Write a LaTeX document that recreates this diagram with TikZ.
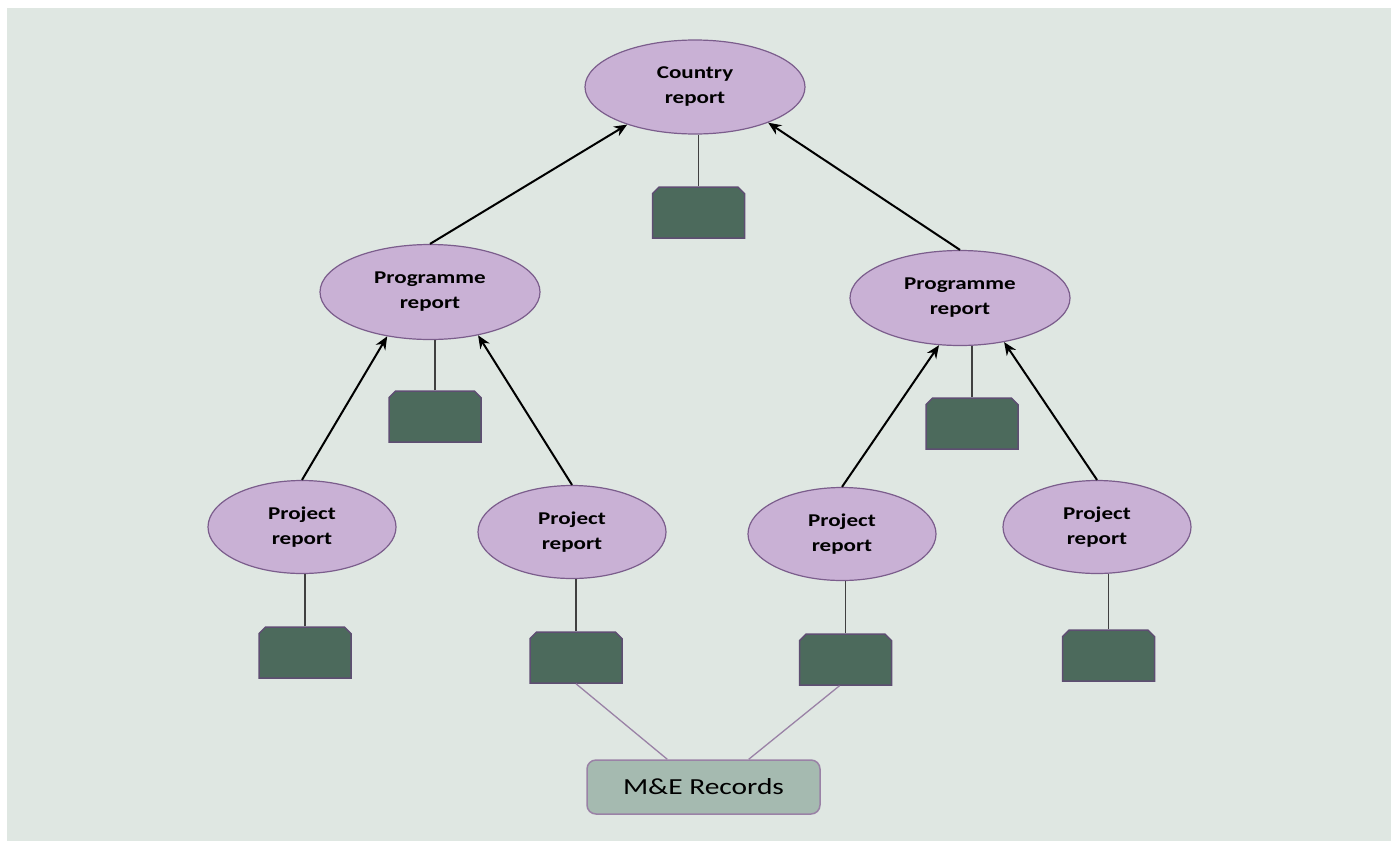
\documentclass[tikz,border=0pt]{standalone}
\usepackage{fontspec}
\setmainfont[FakeStretch=1.28]{Carlito}
\usetikzlibrary{shapes.geometric,shapes.misc,arrows.meta}

\definecolor{bg}{HTML}{DFE7E2}
\definecolor{lilac}{HTML}{C9B1D5}
\definecolor{lilacline}{HTML}{7B5D8C}
\definecolor{docfill}{HTML}{4C6A5C}
\definecolor{docline}{HTML}{5E4E72}
\definecolor{recfill}{HTML}{A5BAB0}
\definecolor{recline}{HTML}{9A82A6}

\begin{document}
\begin{tikzpicture}[x=1pt,y=-1pt,
report/.style={ellipse,draw=lilacline,fill=lilac,line width=1.2pt,align=center,
  inner sep=0pt,font=\bfseries\fontsize{18}{25}\selectfont},
doc/.style={chamfered rectangle,chamfered rectangle corners={north west,north east},
  chamfered rectangle xsep=9pt,chamfered rectangle ysep=8pt,
  fill=docfill,draw=docline,line width=1.5pt,minimum width=92pt,minimum height=51pt},
up/.style={-{Stealth[length=13pt,width=11pt]},line width=2pt},
stem/.style={line width=1.8pt,draw=black!75}]

\fill[bg] (7,8) rectangle (1391,841);
\useasboundingbox (0,0) rectangle (1391,841);

\node[report,minimum width=220pt,minimum height=94pt] (C) at (695,87) {Country\\report};
\node[report,minimum width=220pt,minimum height=95pt] (P1) at (430,292) {Programme\\report};
\node[report,minimum width=220pt,minimum height=95pt] (P2) at (960,298) {Programme\\report};
\node[report,minimum width=188pt,minimum height=93pt] (J1) at (302,527) {Project\\report};
\node[report,minimum width=188pt,minimum height=93pt] (J2) at (572,532) {Project\\report};
\node[report,minimum width=188pt,minimum height=93pt] (J3) at (842,534) {Project\\report};
\node[report,minimum width=188pt,minimum height=93pt] (J4) at (1097,527) {Project\\report};

\node[doc] (D0) at (698.5,212.5) {};
\node[doc] (D1) at (435,416.5) {};
\node[doc] (D2) at (972,423.5) {};
\node[doc] (D3) at (305,652.5) {};
\node[doc] (D4) at (576,657.5) {};
\node[doc] (D5) at (845.5,659.5) {};
\node[doc] (D6) at (1108.5,655.5) {};

\node[rounded corners=9pt,draw=recline,fill=recfill,line width=1.5pt,
  minimum width=233pt,minimum height=54pt,font=\fontsize{23}{27}\selectfont] (M) at (703.5,787) {M\&E Records};

\draw[up] (P1.north) -- (C.209);
\draw[up] (P2.north) -- (C.334);
\draw[up] (J1.north) -- (P1.226);
\draw[up] (J2.north) -- (P1.318);
\draw[up] (J3.north) -- (P2.246);
\draw[up] (J4.north) -- (P2.315);

\draw[stem] (D0.north) -- (D0.north |- C.south);
\draw[stem] (D1.north) -- (D1.north |- P1.south);
\draw[stem] (D2.north) -- (D2.north |- P2.south);
\draw[stem] (D3.north) -- (D3.north |- J1.south);
\draw[stem] (D4.north) -- (D4.north |- J2.south);
\draw[stem] (D5.north) -- (D5.north |- J3.south);
\draw[stem] (D6.north) -- (D6.north |- J4.south);

\draw[recline,line width=1.3pt] (D4.south) -- ([xshift=81pt]M.north west);
\draw[recline,line width=1.3pt] ([xshift=-6pt]D5.south) -- ([xshift=-72pt]M.north east);
\end{tikzpicture}
\end{document}
